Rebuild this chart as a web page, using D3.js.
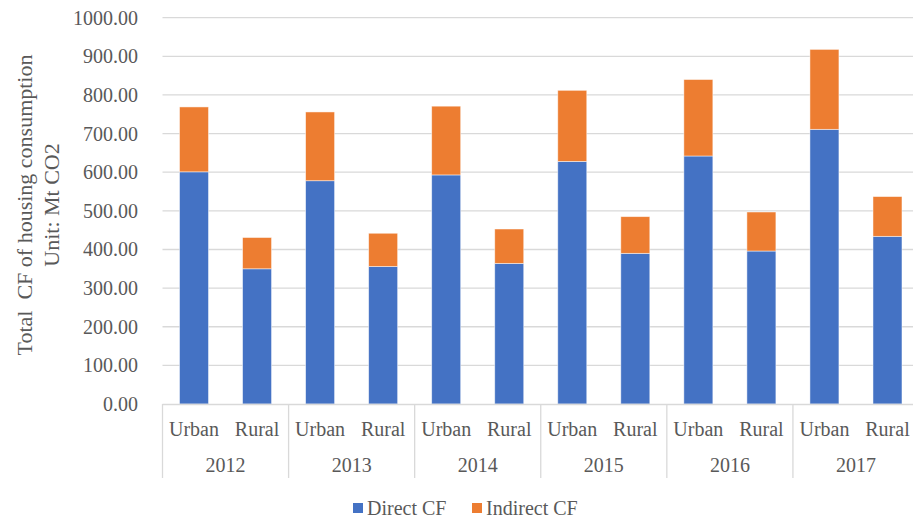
<!DOCTYPE html>
<html>
<head>
<meta charset="utf-8">
<script src="https://cdn.jsdelivr.net/npm/d3@7"></script>
<style>
  body { margin: 0; background: #fff; }
  svg { display: block; font-family: "Liberation Serif", "Times New Roman", serif; }
  text { fill: #595959; white-space: pre; }
</style>
</head>
<body>
<div id="chart"></div>
<script>
// data
var years = ["2012", "2013", "2014", "2015", "2016", "2017"];
var areas = ["Urban", "Rural"];
var directCF = [601, 350, 578, 356, 593, 364, 628, 390, 642, 396, 711, 434];
var indirectCF = [168, 81, 178, 86, 178, 89, 184, 95, 198, 101, 207, 103];
var yTicks = [0, 100, 200, 300, 400, 500, 600, 700, 800, 900, 1000];
var seriesNames = ["Direct CF", "Indirect CF"];
var colors = ["#4472C4", "#ED7D31"];

var W = 913, H = 520;
// plot area (right edge runs past the picture, as in the reference)
var plotLeft = 162.5, plotRight = 919, plotTop = 17.7, plotBottom = 404;

var svg = d3.select("#chart").append("svg")
  .attr("width", W)
  .attr("height", H);

var rows = [];
years.forEach(function(yr, i) {
  areas.forEach(function(a, j) {
    var k = i * areas.length + j;
    rows.push({key: yr + "-" + a, year: yr, area: a, direct: directCF[k], indirect: indirectCF[k]});
  });
});

var x = d3.scaleBand()
  .domain(rows.map(function(d) { return d.key; }))
  .range([plotLeft, plotRight])
  .paddingInner(0.54)
  .paddingOuter(0.27);

var xYear = d3.scaleBand()
  .domain(years)
  .range([plotLeft, plotRight]);

var y = d3.scaleLinear()
  .domain([0, 1000])
  .range([plotBottom, plotTop]);

// gridlines
svg.append("g")
  .selectAll("line")
  .data(yTicks.slice(1))
  .join("line")
  .attr("x1", plotLeft)
  .attr("x2", plotRight)
  .attr("y1", function(d) { return y(d); })
  .attr("y2", function(d) { return y(d); })
  .attr("stroke", "#d9d9d9")
  .attr("stroke-width", 1.3);

// y tick labels
svg.append("g")
  .selectAll("text")
  .data(yTicks)
  .join("text")
  .attr("x", 138)
  .attr("y", function(d) { return y(d); })
  .attr("dy", "0.35em")
  .attr("text-anchor", "end")
  .style("font-size", "20px")
  .text(function(d) { return d3.format(".2f")(d); });

// stacked bars
var stack = d3.stack().keys(["direct", "indirect"]);
var layers = stack(rows);

svg.append("g")
  .selectAll("g")
  .data(layers)
  .join("g")
  .attr("fill", function(d, i) { return colors[i]; })
  .selectAll("rect")
  .data(function(d) { return d; })
  .join("rect")
  .attr("x", function(d) { return x(d.data.key); })
  .attr("width", x.bandwidth())
  .attr("y", function(d) { return y(d[1]); })
  .attr("height", function(d) { return y(d[0]) - y(d[1]); })
  .attr("stroke", "#fff")
  .attr("stroke-opacity", 0.6)
  .attr("stroke-width", 0.8);

// category axis: baseline and group dividers
svg.append("line")
  .attr("x1", plotLeft).attr("x2", plotRight)
  .attr("y1", plotBottom + 0.5).attr("y2", plotBottom + 0.5)
  .attr("stroke", "#d9d9d9")
  .attr("stroke-width", 1.3);

svg.append("g")
  .selectAll("line")
  .data(years)
  .join("line")
  .attr("x1", function(d) { return xYear(d); })
  .attr("x2", function(d) { return xYear(d); })
  .attr("y1", plotBottom)
  .attr("y2", 478)
  .attr("stroke", "#d9d9d9")
  .attr("stroke-width", 1.3);

svg.append("g")
  .selectAll("text")
  .data(rows)
  .join("text")
  .attr("x", function(d) { return x(d.key) + x.bandwidth() / 2; })
  .attr("y", 436)
  .attr("text-anchor", "middle")
  .style("font-size", "20px")
  .text(function(d) { return d.area; });

svg.append("g")
  .selectAll("text")
  .data(years)
  .join("text")
  .attr("x", function(d) { return xYear(d) + xYear.bandwidth() / 2; })
  .attr("y", 472)
  .attr("text-anchor", "middle")
  .style("font-size", "20px")
  .text(function(d) { return d; });

// y axis title
var title = svg.append("text")
  .attr("transform", "translate(0,205) rotate(-90)")
  .attr("text-anchor", "middle")
  .style("font-size", "22px");
title.append("tspan").attr("x", 0).attr("y", 32).text("Total  CF of housing consumption");
title.append("tspan").attr("x", 0).attr("y", 59).text("Unit: Mt CO2");

// legend
var legend = svg.append("g").attr("transform", "translate(353,508)");
var legendX = [0, 119];
seriesNames.forEach(function(name, i) {
  var g = legend.append("g").attr("transform", "translate(" + legendX[i] + ",0)");
  g.append("rect")
    .attr("x", 0).attr("y", -5)
    .attr("width", 10).attr("height", 10)
    .attr("fill", colors[i]);
  g.append("text")
    .attr("x", 14).attr("y", 0)
    .attr("dy", "0.35em")
    .style("font-size", "20px")
    .text(name);
});
</script>
</body>
</html>
